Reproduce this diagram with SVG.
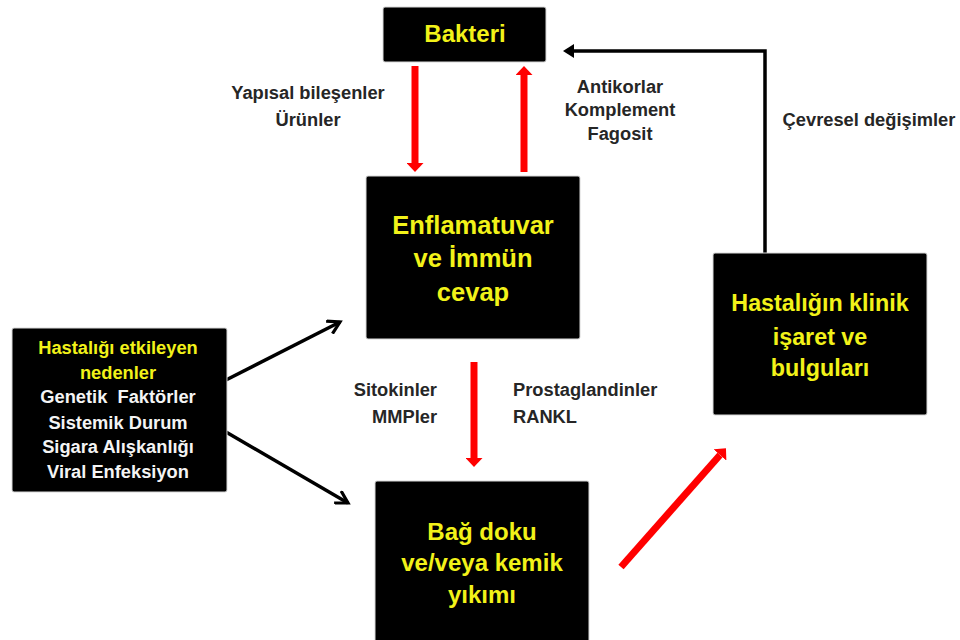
<svg xmlns="http://www.w3.org/2000/svg" width="960" height="640" viewBox="0 0 960 640">
<style>
.box{fill:#000;stroke:#d8d8d8;stroke-width:1}
.t{font-family:"Liberation Sans",Arial,sans-serif;font-weight:bold;text-anchor:middle}
.y{fill:#f2f219}
.w{fill:#f4f4f4}
.lbl{font-family:"Liberation Sans",Arial,sans-serif;font-weight:bold;font-size:18.3px;fill:#262626}
.red{stroke:#f00;stroke-width:7;fill:none}
.blk{stroke:#000;stroke-width:3.5;fill:none}
</style>
<defs>
<marker id="rh" viewBox="0 0 9 17" refX="0" refY="8.5" markerWidth="9" markerHeight="17" markerUnits="userSpaceOnUse" orient="auto">
<path d="M0,0 L9,8.5 L0,17 Z" fill="#f00"/>
</marker>
<marker id="bo" viewBox="0 0 16 16" refX="13" refY="8" markerWidth="16" markerHeight="16" markerUnits="userSpaceOnUse" orient="auto">
<path d="M1,1 L13,8 L1,15" fill="none" stroke="#000" stroke-width="3.2"/>
</marker>
<marker id="bf" viewBox="0 0 11 14" refX="0" refY="7" markerWidth="11" markerHeight="14" markerUnits="userSpaceOnUse" orient="auto">
<path d="M0,0 L11,7 L0,14 Z" fill="#000"/>
</marker>
</defs>
<rect width="960" height="640" fill="#fff"/>

<g id="connectors">
<line class="red" x1="415" y1="66" x2="415" y2="163" marker-end="url(#rh)"/>
<line class="red" x1="524" y1="172" x2="524" y2="75" marker-end="url(#rh)"/>
<line class="red" x1="474" y1="362" x2="474" y2="458" marker-end="url(#rh)"/>
<line class="red" x1="621" y1="567" x2="720" y2="455" marker-end="url(#rh)"/>
<line class="blk" x1="226" y1="380" x2="340" y2="322" marker-end="url(#bo)"/>
<line class="blk" x1="226" y1="432" x2="348" y2="503" marker-end="url(#bo)"/>
<path class="blk" stroke-width="4" d="M765,253 V51 H574" marker-end="url(#bf)"/>
</g>

<g id="labels">
<text class="lbl" x="308" y="99" text-anchor="middle">Yapısal bileşenler</text>
<text class="lbl" x="308" y="126" text-anchor="middle">Ürünler</text>
<text class="lbl" x="620" y="93" text-anchor="middle">Antikorlar</text>
<text class="lbl" x="620" y="116" text-anchor="middle">Komplement</text>
<text class="lbl" x="620" y="140" text-anchor="middle">Fagosit</text>
<text class="lbl" x="869" y="126" text-anchor="middle">Çevresel değişimler</text>
<text class="lbl" x="437" y="396" text-anchor="end">Sitokinler</text>
<text class="lbl" x="437" y="423" text-anchor="end">MMPler</text>
<text class="lbl" x="513" y="396">Prostaglandinler</text>
<text class="lbl" x="513" y="423">RANKL</text>
</g>

<g id="bakteri">
<rect class="box" x="383" y="7" width="163" height="55" rx="2"/>
<text class="t y" x="465" y="42" font-size="24">Bakteri</text>
</g>

<g id="enflamatuvar">
<rect class="box" x="366" y="176" width="214" height="163" rx="2"/>
<text class="t y" x="473" y="234" font-size="25.5">Enflamatuvar</text>
<text class="t y" x="473" y="267" font-size="25.5">ve İmmün</text>
<text class="t y" x="473" y="301" font-size="25.5">cevap</text>
</g>

<g id="nedenler">
<rect class="box" x="12" y="328" width="215" height="164" rx="2"/>
<text class="t y" x="118" y="354" font-size="18.3">Hastalığı etkileyen</text>
<text class="t y" x="118" y="379" font-size="18.3">nedenler</text>
<text class="t w" x="118" y="403" font-size="18.3" xml:space="preserve">Genetik  Faktörler</text>
<text class="t w" x="118" y="429" font-size="18.3">Sistemik Durum</text>
<text class="t w" x="118" y="453" font-size="18.3">Sigara Alışkanlığı</text>
<text class="t w" x="118" y="478" font-size="18.3">Viral Enfeksiyon</text>
</g>

<g id="bagdoku">
<rect class="box" x="375" y="481" width="214" height="170" rx="2"/>
<text class="t y" x="482" y="540" font-size="24">Bağ doku</text>
<text class="t y" x="482" y="571" font-size="24">ve/veya kemik</text>
<text class="t y" x="482" y="603" font-size="24">yıkımı</text>
</g>

<g id="klinik">
<rect class="box" x="713" y="253" width="214" height="162" rx="2"/>
<text class="t y" x="820" y="311" font-size="23.3">Hastalığın klinik</text>
<text class="t y" x="820" y="345" font-size="23.3">işaret ve</text>
<text class="t y" x="820" y="376" font-size="23.3">bulguları</text>
</g>
</svg>
